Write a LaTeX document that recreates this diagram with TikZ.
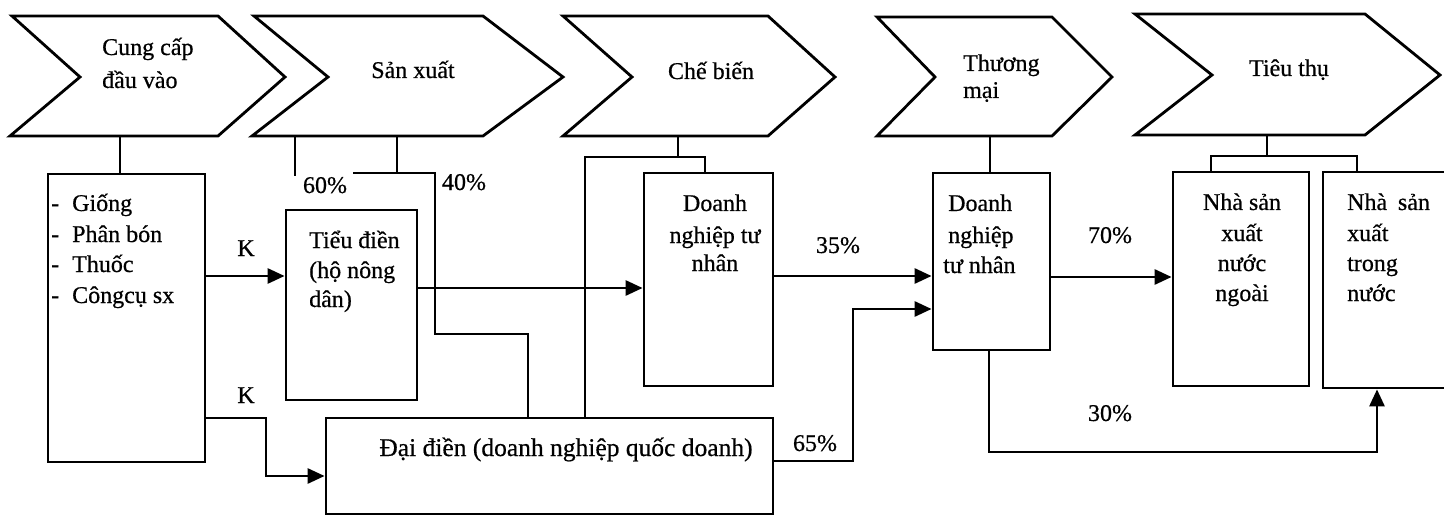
\documentclass[tikz,border=0pt]{standalone}
\usepackage{fontspec}
\setmainfont{Liberation Serif}[FakeBold=0.6]
\usetikzlibrary{arrows.meta}
\begin{document}
\begin{tikzpicture}[x=1pt,y=-1pt,
  ln/.style={line width=2.8pt, line join=miter},
  box/.style={draw, line width=2.8pt, inner sep=0pt},
  txt/.style={font=\fontsize{24}{30}\selectfont, inner sep=0pt},
  arr/.style={ln, -{Triangle[length=17pt,width=15pt]}},
  chev/.style={draw, line width=2.8pt, line join=miter}]
\useasboundingbox (0,0) rectangle (1444,516);
\clip (0,0) rectangle (1444,516);

% ---------------- chevrons ----------------
\draw[chev] (12,16) -- (218,16) -- (285,77) -- (218,136) -- (10,136) -- (80,77) -- cycle;
\draw[chev] (254,16) -- (483,16) -- (563,77) -- (483,136) -- (252,136) -- (328,77) -- cycle;
\draw[chev] (563,16) -- (768,16) -- (835,77) -- (768,136) -- (563,136) -- (632,77) -- cycle;
\draw[chev] (877,17) -- (1052,17) -- (1112,77) -- (1052,136) -- (877,136) -- (935,77) -- cycle;
\draw[chev] (1135,14) -- (1365,14) -- (1440,75) -- (1365,135) -- (1135,135) -- (1212,75) -- cycle;

\node[txt, anchor=base west] (c1a) at (102,55) {Cung cấp};
\node[txt, anchor=base west] (c1b) at (102,88) {đầu vào};
\node[txt, anchor=base] (c2) at (413,78) {Sản xuất};
\node[txt, anchor=base] (c3) at (711,79) {Chế biến};
\node[txt, anchor=base west] (c4a) at (963,71) {Thương};
\node[txt, anchor=base west] (c4b) at (963,98) {mại};
\node[txt, anchor=base] (c5) at (1289,76) {Tiêu thụ};

\coordinate (b1) at (120,136);
\coordinate (b2) at (397,136);
\coordinate (b2l) at (295,136);
\coordinate (b3) at (678,136);
\coordinate (b4) at (990,136);
\coordinate (b5) at (1267,135);

% ---------------- boxes ----------------
\node[box, minimum width=157pt, minimum height=288pt] (giong) at (126.5,318) {};
\node[box, minimum width=131pt, minimum height=190pt] (tieu) at (351.5,305) {};
\node[box, minimum width=447pt, minimum height=96pt] (dai) at (549.5,466) {};
\node[box, minimum width=129pt, minimum height=213pt] (dncb) at (708.5,279.5) {};
\node[box, minimum width=117pt, minimum height=177pt] (dntm) at (991.5,261.5) {};
\node[box, minimum width=136pt, minimum height=214pt] (nng) at (1241,279) {};
\node[box, minimum width=150pt, minimum height=216pt] (ntn) at (1398,280) {};

% box texts
\node[txt, anchor=base west] (d1) at (51,211) {-};
\node[txt, anchor=base west] (d2) at (51,242) {-};
\node[txt, anchor=base west] (d3) at (51,272) {-};
\node[txt, anchor=base west] (d4) at (51,303) {-};
\node[txt, anchor=base west] (g1) at (72,211) {Giống};
\node[txt, anchor=base west] (g2) at (72,242) {Phân bón};
\node[txt, anchor=base west] (g3) at (72,272) {Thuốc};
\node[txt, anchor=base west] (g4) at (72,303) {Côngcụ sx};

\node[txt, anchor=base west] (t1) at (309,248) {Tiểu điền};
\node[txt, anchor=base west] (t2) at (309,278) {(hộ nông};
\node[txt, anchor=base west] (t3) at (309,307) {dân)};

\node[txt, anchor=base] (e1) at (715,211) {Doanh};
\node[txt, anchor=base] (e2) at (715,243) {nghiệp tư};
\node[txt, anchor=base] (e3) at (715,271) {nhân};

\node[txt, anchor=base west] (m1) at (948,211) {Doanh};
\node[txt, anchor=base west] (m2) at (948,243) {nghiệp};
\node[txt, anchor=base west] (m3) at (943,273) {tư nhân};

\node[txt, anchor=base] (n1) at (1242,210) {Nhà sản};
\node[txt, anchor=base] (n2) at (1242,241) {xuất};
\node[txt, anchor=base] (n3) at (1242,271) {nước};
\node[txt, anchor=base] (n4) at (1242,301) {ngoài};

\node[txt, anchor=base west] (r1) at (1347,210) {Nhà\hspace{0.45em}sản};
\node[txt, anchor=base west] (r2) at (1347,241) {xuất};
\node[txt, anchor=base west] (r3) at (1347,271) {trong};
\node[txt, anchor=base west] (r4) at (1347,301) {nước};

\node[txt, anchor=base, font=\fontsize{25.5}{30}\selectfont] (dt) at (566,456) {Đại điền (doanh nghiệp quốc doanh)};

% labels
\node[txt, anchor=base] (k1) at (246,256) {K};
\node[txt, anchor=base] (k2) at (246,403) {K};
\node[txt, anchor=base] (p60) at (325,193) {60\%};
\node[txt, anchor=base] (p40) at (464,190) {40\%};
\node[txt, anchor=base] (p35) at (838,253) {35\%};
\node[txt, anchor=base] (p65) at (815,451) {65\%};
\node[txt, anchor=base] (p70) at (1110,243) {70\%};
\node[txt, anchor=base] (p30) at (1110,421) {30\%};

% ---------------- routing coordinates ----------------
\coordinate (s60) at (353,173);
\coordinate (s40) at (435,173);
\coordinate (s40b) at (435,334);
\coordinate (s40c) at (528,334);
\coordinate (b2ls) at (295,176);
\coordinate (cbL) at (585,157);
\coordinate (cbR) at (705,157);
\coordinate (ttL) at (1211,156);
\coordinate (ttR) at (1357,156);
\coordinate (yk1) at (0,276);
\coordinate (yk2) at (266,418);
\coordinate (yk2b) at (266,476);
\coordinate (ytd) at (0,288);
\coordinate (y35) at (0,276);
\coordinate (y65a) at (853,461);
\coordinate (y65b) at (853,309);
\coordinate (y70) at (0,277);
\coordinate (x30) at (989,452);
\coordinate (x30b) at (1377,452);

% ---------------- connectors ----------------
\draw[ln] (b1) -- (b1 |- giong.north);
\draw[ln] (b2) -- (b2 |- s40);
\draw[ln] (b2l) -- (b2ls);
\draw[ln] (s60) -- (s40) -- (s40b) -- (s40c) -- (s40c |- dai.north);
\draw[ln] (b3) -- (b3 |- cbL);
\draw[ln] (cbR |- dncb.north) -- (cbR) -- (cbL) -- (cbL |- dai.north);
\draw[ln] (b4) -- (b4 |- dntm.north);
\draw[ln] (b5) -- (b5 |- ttL);
\draw[ln] (ttL |- nng.north) -- (ttL) -- (ttR) -- (ttR |- ntn.north);

\draw[arr] (giong.east |- yk1) -- (tieu.west |- yk1);
\draw[arr] (giong.east |- yk2) -- (yk2) -- (yk2b) -- (dai.west |- yk2b);
\draw[arr] (tieu.east |- ytd) -- (dncb.west |- ytd);
\draw[arr] (dncb.east |- y35) -- (dntm.west |- y35);
\draw[arr] (dai.east |- y65a) -- (y65a) -- (y65b) -- (dntm.west |- y65b);
\draw[arr] (dntm.east |- y70) -- (nng.west |- y70);
\draw[arr] (x30 |- dntm.south) -- (x30) -- (x30b) -- (x30b |- ntn.south);
\end{tikzpicture}
\end{document}
